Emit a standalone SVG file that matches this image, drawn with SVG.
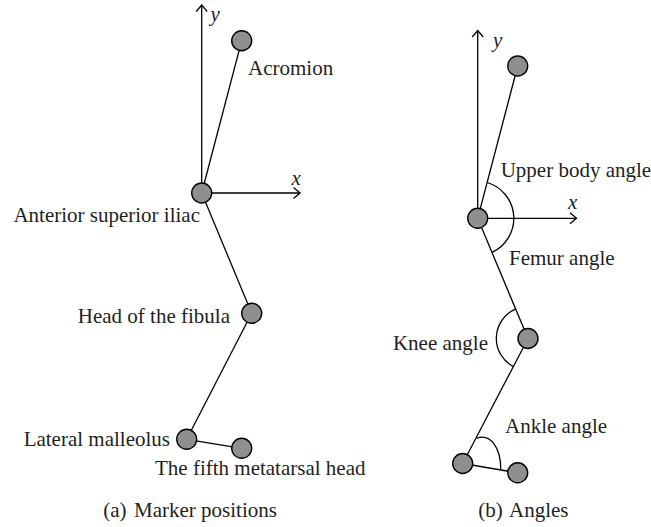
<svg xmlns="http://www.w3.org/2000/svg" width="651" height="527" viewBox="0 0 651 527">
<style>
.ln{stroke:#000;stroke-width:1.3;fill:none}
.nd{fill:#8e8f91;stroke:#000;stroke-width:1.4}
.t{font-family:"Liberation Serif","Times New Roman",serif;font-size:21px;fill:#231f20}
.it{font-style:italic}
</style>
<defs>
<marker id="ah" markerUnits="userSpaceOnUse" markerWidth="14" markerHeight="14" viewBox="-8 -7 10 14" refX="0" refY="0" orient="auto">
<path d="M-6.5,-5.5 L0,0 L-6.5,5.5" fill="none" stroke="#000" stroke-width="1.3"/>
</marker>
</defs>
<rect width="651" height="527" fill="#fff"/>
<g id="connectors">
<line class="ln" x1="201.7" y1="193" x2="201.7" y2="5" marker-end="url(#ah)"/>
<line class="ln" x1="201.7" y1="193" x2="300" y2="193" marker-end="url(#ah)"/>
<line class="ln" x1="201.7" y1="193" x2="241.7" y2="40.7"/>
<line class="ln" x1="201.7" y1="193" x2="251.7" y2="313.3"/>
<line class="ln" x1="251.7" y1="313.3" x2="186.7" y2="439.3"/>
<line class="ln" x1="186.7" y1="439.3" x2="241.7" y2="448.3"/>
<line class="ln" x1="477.7" y1="218.3" x2="477.7" y2="30.5" marker-end="url(#ah)"/>
<line class="ln" x1="477.7" y1="218.3" x2="576.5" y2="218.3" marker-end="url(#ah)"/>
<line class="ln" x1="477.7" y1="218.3" x2="517.7" y2="66"/>
<line class="ln" x1="477.7" y1="218.3" x2="528" y2="338.5"/>
<line class="ln" x1="528" y1="338.5" x2="462.7" y2="463.5"/>
<line class="ln" x1="462.7" y1="463.5" x2="517.7" y2="472.8"/>
<path class="ln" d="M487.2,182.5 A37.5,37.5 0 0 1 492.1,252.4"/>
<path class="ln" d="M515.9,308.8 A32,32 0 0 0 513.4,366.6"/>
<path class="ln" d="M476.7,438.3 C491,433 501,449 500.7,469.3"/>
</g>
<g id="node-acromion"><circle class="nd" cx="241.7" cy="40.7" r="10"/><text class="t" x="248" y="75">Acromion</text></g>
<g id="node-asis"><circle class="nd" cx="201.7" cy="193" r="10"/><text class="t" x="200" y="221.7" text-anchor="end">Anterior superior iliac</text></g>
<g id="node-fibula"><circle class="nd" cx="251.7" cy="313.3" r="10"/><text class="t" x="230" y="323" text-anchor="end">Head of the fibula</text></g>
<g id="node-malleolus"><circle class="nd" cx="186.7" cy="439.3" r="10"/><text class="t" x="170" y="446" text-anchor="end">Lateral malleolus</text></g>
<g id="node-metatarsal"><circle class="nd" cx="241.7" cy="448.3" r="10"/><text class="t" x="155" y="475">The fifth metatarsal head</text></g>
<g id="axis-labels-a"><text class="t it" x="210.5" y="21">y</text><text class="t it" x="291.5" y="185">x</text></g>
<text class="t" x="103.3" y="517">(a)<tspan x="134">Marker positions</tspan></text>

<g id="node-b-upper"><circle class="nd" cx="517.7" cy="66" r="10"/></g>
<g id="node-b-hip"><circle class="nd" cx="477.7" cy="218.3" r="10"/></g>
<g id="node-b-knee"><circle class="nd" cx="528" cy="338.5" r="10"/></g>
<g id="node-b-ankle"><circle class="nd" cx="462.7" cy="463.5" r="10"/></g>
<g id="node-b-toe"><circle class="nd" cx="517.7" cy="472.8" r="10"/></g>
<g id="axis-labels-b"><text class="t it" x="493" y="46.5">y</text><text class="t it" x="568" y="208.5">x</text></g>
<g id="angle-labels">
<text class="t" x="500.7" y="176.7">Upper body angle</text>
<text class="t" x="509" y="265">Femur angle</text>
<text class="t" x="488" y="350" text-anchor="end">Knee angle</text>
<text class="t" x="505" y="433">Ankle angle</text>
</g>
<text class="t" x="478.3" y="517">(b)<tspan x="509">Angles</tspan></text>
</svg>
